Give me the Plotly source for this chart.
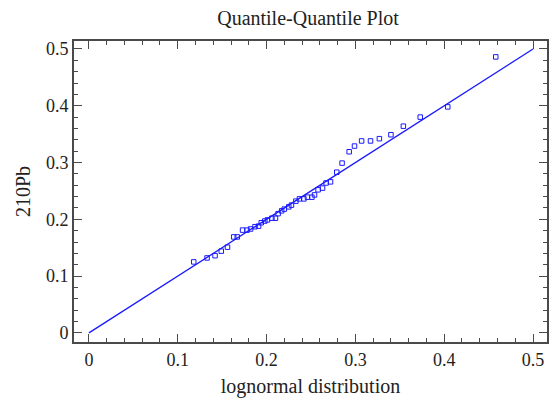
import plotly.graph_objects as go

# Theoretical (lognormal) quantiles and observed 210Pb quantiles
lognormal_q = [0.118, 0.133, 0.142, 0.149, 0.156, 0.163, 0.167, 0.173, 0.178, 0.182,
               0.187, 0.191, 0.194, 0.198, 0.201, 0.206, 0.210, 0.213, 0.217, 0.220,
               0.225, 0.228, 0.233, 0.237, 0.242, 0.246, 0.251, 0.254, 0.258, 0.263,
               0.267, 0.272, 0.279, 0.285, 0.293, 0.299, 0.307, 0.317, 0.327, 0.340,
               0.354, 0.373, 0.404, 0.458]
pb210_q = [0.125, 0.132, 0.136, 0.144, 0.151, 0.169, 0.169, 0.181, 0.181, 0.183,
           0.187, 0.188, 0.194, 0.197, 0.199, 0.202, 0.202, 0.210, 0.215, 0.218,
           0.222, 0.225, 0.232, 0.236, 0.236, 0.239, 0.239, 0.243, 0.252, 0.255,
           0.264, 0.266, 0.283, 0.299, 0.319, 0.329, 0.338, 0.338, 0.342, 0.349,
           0.364, 0.380, 0.398, 0.486]
ref_line_x = [0, 0.5]
ref_line_y = [0, 0.5]
tick_vals = [0, 0.1, 0.2, 0.3, 0.4, 0.5]
tick_text = ["0", "0.1", "0.2", "0.3", "0.4", "0.5"]

blue = "#1a1aff"
serif = "Liberation Serif, Times New Roman, serif"

fig = go.Figure()
fig.add_trace(go.Scatter(x=ref_line_x, y=ref_line_y, mode="lines",
                         line=dict(color=blue, width=1.3), hoverinfo="skip"))
fig.add_trace(go.Scatter(x=lognormal_q, y=pb210_q, mode="markers",
                         marker=dict(symbol="square-open", size=4.5, color=blue,
                                     line=dict(width=1, color=blue))))

axis_common = dict(
    showgrid=False, zeroline=False, showline=True, linecolor="#4a4a4a", linewidth=2,
    mirror="allticks", ticks="inside", ticklen=8, tickwidth=1, tickcolor="#4a4a4a",
    tickvals=tick_vals, ticktext=tick_text,
    tickfont=dict(family=serif, size=18, color="#222222"),
    minor=dict(ticks="inside", ticklen=4, tickwidth=1, tickcolor="#4a4a4a", dtick=0.02),
)

fig.update_layout(
    width=553, height=400,
    margin=dict(l=74, r=4, t=41, b=58),
    paper_bgcolor="white", plot_bgcolor="white",
    showlegend=False,
    title=dict(text="Quantile-Quantile Plot", x=0.557, xanchor="center", y=0.955,
               yanchor="middle", font=dict(family=serif, size=20, color="#222222")),
    xaxis=dict(range=[-0.0168, 0.5157],
               title=dict(text="lognormal distribution", standoff=10,
                          font=dict(family=serif, size=20, color="#222222")),
               **axis_common),
    yaxis=dict(range=[-0.016, 0.514],
               title=dict(text="210Pb", standoff=10,
                          font=dict(family=serif, size=20, color="#222222")),
               **axis_common),
)

fig.write_html("out.html")
